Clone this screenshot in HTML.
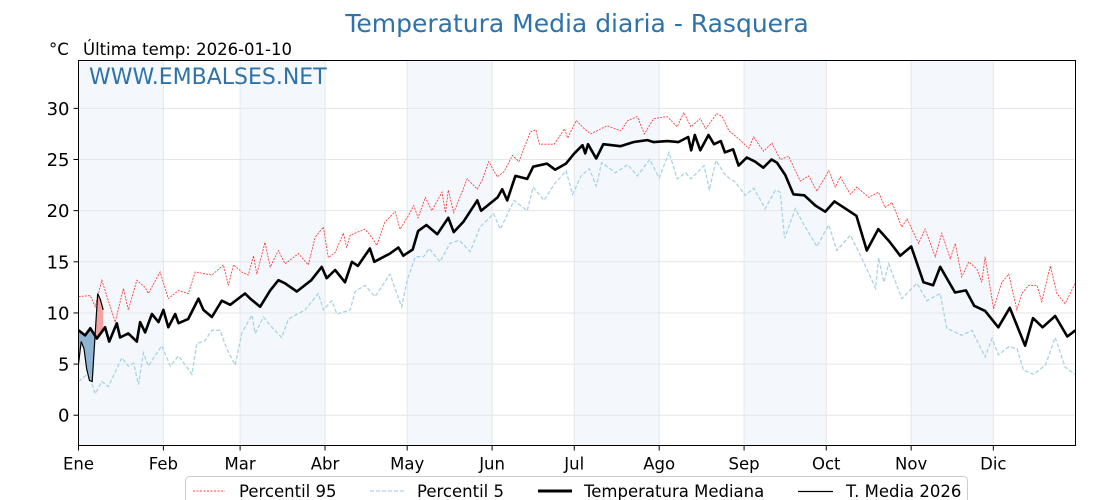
<!DOCTYPE html>
<html><head><meta charset="utf-8">
<style>
html,body{margin:0;padding:0;background:#fff;}
svg{display:block;font-family:"DejaVu Sans","Liberation Sans",sans-serif;}
</style></head>
<body>
<svg id="chart" width="1120" height="500" viewBox="0 0 1120 500" xmlns="http://www.w3.org/2000/svg">
<text x="577" y="32" text-anchor="middle" font-size="25" fill="#2f72aa">Temperatura Media diaria - Rasquera</text>
<text x="49" y="55" font-size="16.5" fill="#000">°C</text>
<text x="83" y="55" font-size="16.5" fill="#000">Última temp: 2026-01-10</text>
<g id="bands"></g>
<g id="grid"></g>
<g id="series"></g>
<text x="89" y="84" font-size="22" fill="#2f72aa">WWW.EMBALSES.NET</text>
<rect x="78.5" y="60.5" width="997" height="385" fill="none" stroke="#000" stroke-width="1"/>
<g id="axes"></g>
<g id="legend">
<rect x="185.5" y="476.5" width="782" height="30" rx="4" fill="#fff" stroke="#ccc"/>
<line x1="193" y1="491" x2="225" y2="491" stroke="red" stroke-width="0.8" stroke-dasharray="2,1.5"/>
<text x="239" y="497" font-size="16.5">Percentil 95</text>
<line x1="370" y1="491" x2="405" y2="491" stroke="#a8d4e6" stroke-width="1.3" stroke-dasharray="4,2"/>
<text x="417" y="497" font-size="16.5">Percentil 5</text>
<line x1="538" y1="491" x2="572" y2="491" stroke="#000" stroke-width="3"/>
<text x="584" y="497" font-size="16.5">Temperatura Mediana</text>
<line x1="798" y1="491.5" x2="833" y2="491.5" stroke="#000" stroke-width="1.2"/>
<text x="846" y="497" font-size="16.5">T. Media 2026</text>
</g>
</svg>
<script>
const monthLabels=["Ene","Feb","Mar","Abr","May","Jun","Jul","Ago","Sep","Oct","Nov","Dic"];
const monthStarts=[0,31,59,90,120,151,181,212,243,273,304,334];
const yTicks=[0,5,10,15,20,25,30];
const medDays=[0,2.4,4.3,6.7,9.7,11.2,14,15.2,18.2,21.3,22.5,24.3,26.8,29.2,31,32.8,35.3,36.5,40,43.8,45.6,48.7,52.3,55.4,60.8,62.7,66.3,70,73,75.4,79.7,85,88.8,90.6,93.7,97.3,99.8,102,106.4,108,113.7,116.8,118.6,122,124,127,131,135,137,140.5,145.6,147,153,154.7,156.5,159.5,163.8,166,171,174,178,181,184,185,186,189,191.6,197.8,202.6,207.7,210,215,219,222.6,223.7,225,227,230,232,234.5,236,239,241,244,247,250,253,255,258,261,265,269,272.6,276,280,284,287.8,292,296,300,304,308.5,312,314.6,320,324,327,331,335.8,340,345.6,348.5,352,356.6,361,364];
const medVals=[8.3,7.8,8.5,7.5,8.6,7.2,9,7.6,8,7.2,9.1,8.1,9.9,9.1,10.3,8.6,9.9,9,9.4,11.4,10.3,9.6,11.2,10.8,11.9,11.4,10.6,12.2,13.2,12.9,12.1,13.2,14.5,13.4,14.2,13,15,14.6,16.3,15,15.8,16.4,15.6,16.2,18,18.6,17.7,19.3,17.9,18.9,21,20,21.3,22.1,21,23.4,23.1,24.3,24.6,24,24.6,25.6,26.4,25.6,26.5,25.1,26.5,26.3,26.7,26.9,26.7,26.8,26.7,27.2,25.9,27.4,25.9,27.4,26.5,26.8,25.7,26,24.4,25.2,24.8,24.2,25,24.7,23.5,21.6,21.5,20.5,19.9,20.9,20.2,19.5,16.1,18.2,17,15.6,16.5,13,12.7,14.5,12,12.2,10.7,10.2,8.6,10.5,6.8,9.5,8.6,9.7,7.7,8.3];
const p95Days=[0,4.3,6.1,8.5,13.4,16.4,18.2,21.3,24.3,25.5,29.8,32.8,36.5,40.1,42.6,48.7,52.9,54.7,56.6,59.6,62,63.9,65.1,68.1,70,73,75.4,80.3,83.9,86.4,89.4,91.2,93.7,96.7,97.9,99.2,104.6,107.1,108.9,111.9,115.6,117.4,120.4,122.4,124,126.6,129,132.7,134,135,137,141.9,145.6,147.4,149.8,152.9,155.3,158.4,160.8,165,167,168.3,173.7,177.4,178.6,181.7,184.7,187,193,198,200.5,204,206.6,210,215,218.6,221,223.6,227,229,233,235,237.5,241.6,244.7,246.5,250.1,253.2,256.2,259.3,263.5,266.6,269.6,273.9,276.3,278.1,281.8,284.2,288.5,292.1,294.5,297,300.6,302.5,306.7,309.1,312.8,315.2,318.3,320.1,322.5,325,328,329.8,331,334.1,337.1,339.6,342.6,344.4,346.9,349.9,351.7,354.8,357.2,360.2,363.9];
const p95Vals=[11.6,11.7,10.6,13.2,9.1,12.4,10.3,13.2,12.5,11.9,14,11.4,12.2,11.9,14,13.7,14.7,12.7,14.7,14,13.7,15.6,13.8,16.9,14.5,16.1,14.8,15.8,14.7,17.4,18.4,15.4,15.9,17.8,16.4,17.6,18.2,17.4,16.6,18.9,19.9,18.2,19.5,20.5,19.3,21.3,20,21.8,19.8,22,19.8,23.1,22.1,23,24.8,23.3,23.8,25.4,24.8,27.7,27.9,26.5,26.5,28,27.1,28.8,28,27.5,28.3,27.8,28.8,29.2,27.5,29,29.2,28.2,29.6,28.2,29,28,29.5,29.2,27.8,26.9,26.1,27.2,25.8,26.6,25,25.3,22.9,23.4,21.9,23.9,22.3,23.3,21.6,22.3,21.3,21.8,20.3,20.8,18.4,19.2,16.8,18.2,15.5,17.8,15.3,16.8,13.5,15,14.3,13,15.5,10.4,13,13.8,10.3,11.9,12.7,12.7,11.1,14.6,11.9,10.9,12.9];
const p5Days=[0,3.6,6.1,8.5,10.9,15.8,18.2,20.1,21.9,23.7,25.5,30.4,33.5,36.5,40.1,41.4,43.2,46.2,48.7,51.7,54.1,57.2,59.6,63.3,64.5,67.5,70.6,74.2,76.6,82.7,87.6,89.4,92.5,94.3,99.2,101,104.6,108.3,113.7,118,120,123,126,128,132,135.6,139,143,146.6,151.5,154,159,163.8,166,170,173.7,178,180.4,183.5,186.5,189,191,196,200.5,204,208.5,212,215.6,218.6,221.7,223.6,228.4,230.3,232.7,236.4,239.8,243.4,246.5,250.7,254.4,256.2,257.8,261.7,264.7,269.6,273.9,276.9,281.8,284.8,288.5,291,292.1,294,295.8,300.6,306.1,309.8,314.6,317,322.5,326.2,331,333.5,335.9,339.6,342.6,345,348.7,353,356.6,360.2,363.9];
const p5Vals=[3.3,4.1,2.1,3.3,2.8,5.6,4.8,5.1,3,6.1,4.8,6.8,4.8,5.8,4.5,4,7,7.3,8.3,8.3,6.5,4.9,8,9.8,8,9.6,8.6,7.6,9.4,10.3,11.9,10.3,11.2,9.9,10.3,12.1,12.7,11.6,13.8,10.6,13.2,15.5,15.5,16.3,15,16.8,17.1,16,18.4,19.7,18.2,21,20,22.3,21,22.6,23.9,21.6,23.4,24.1,22.4,24.7,23.7,24.5,23.4,25,23.2,25.7,23.1,23.7,23.1,24.4,22,24.9,23.4,22.8,21.5,22.2,20.2,22,21.8,17.3,20.2,18.7,16.5,18.6,16.1,17.6,16,13.9,12.4,15.4,13,14.8,11.4,12.9,11.2,11.9,8.5,7.8,8.3,5.7,7.5,5.9,6.7,6.5,4.4,4,4.9,7.6,4.7,4];
const curDays=[0,1,2,3,4,5,6,7,8,9];
const curVals=[5.0,7.2,6.5,4.5,3.4,3.3,7.5,11.9,11.3,10.3];

const NS="http://www.w3.org/2000/svg";
const X0=78.5,X1=1075.5,Y0=60.5,Y1=445.5;
const DMAX=364, TMIN=-2.96, TMAX=34.68;
function xs(d){return X0+d/DMAX*(X1-X0);}
function ys(t){return Y1-(t-TMIN)/(TMAX-TMIN)*(Y1-Y0);}
function mk(tag,attrs,parent){const e=document.createElementNS(NS,tag);for(const k in attrs)e.setAttribute(k,attrs[k]);parent.appendChild(e);return e;}
const bands=document.getElementById('bands'),grid=document.getElementById('grid'),series=document.getElementById('series'),axes=document.getElementById('axes');
for(let i=0;i<12;i+=2){
  const a=xs(monthStarts[i]),b=xs(i+1<12?monthStarts[i+1]:DMAX);
  const r=mk('rect',{x:a,y:Y0,width:b-a,height:Y1-Y0,fill:'#f4f8fc'},bands);
  
  
}
yTicks.forEach(t=>{
  const l=mk('line',{x1:X0,x2:X1,y1:ys(t),y2:ys(t),stroke:'#e3e6ea','stroke-width':1},grid);
  
  
  const tk=mk('line',{x1:X0-5,x2:X0,y1:ys(t),y2:ys(t),stroke:'#000'},axes);
  
  
  const tx=mk('text',{x:X0-9,y:ys(t)+6.5,'text-anchor':'end','font-size':18},axes);
  tx.textContent=t;
  
  
});
monthStarts.forEach((d,i)=>{
  const l=mk('line',{x1:xs(d),x2:xs(d),y1:Y0,y2:Y1,stroke:'#e3e6ea','stroke-width':1},grid);
  
  
  const tk=mk('line',{x1:xs(d),x2:xs(d),y1:Y1,y2:Y1+5,stroke:'#000'},axes);
  
  
  const tx=mk('text',{x:xs(d),y:Y1+24,'text-anchor':'middle','font-size':16.5},axes);
  tx.textContent=monthLabels[i];
  
  
});
function pts(ds,vs){return ds.map((d,i)=>xs(d).toFixed(1)+','+ys(vs[i]).toFixed(1)).join(' ');}
function medAt(d){for(let i=1;i<medDays.length;i++){if(d<=medDays[i]){const f=(d-medDays[i-1])/(medDays[i]-medDays[i-1]);return medVals[i-1]+f*(medVals[i]-medVals[i-1]);}}return medVals[medVals.length-1];}
const defs=mk('defs',{},series);
const medP=medDays.map((d,i)=>xs(d)+','+ys(medVals[i])).join(' ');
const cpA=mk('clipPath',{id:'above'},defs);
mk('polygon',{points:xs(0)+','+Y0+' '+medP+' '+xs(DMAX)+','+Y0},cpA);
const cpB=mk('clipPath',{id:'below'},defs);
mk('polygon',{points:xs(0)+','+Y1+' '+medP+' '+xs(DMAX)+','+Y1},cpB);
const last=curDays.length-1;
let band=pts(curDays,curVals);
for(let i=last;i>=0;i--) band+=' '+xs(curDays[i]).toFixed(1)+','+ys(medAt(curDays[i])).toFixed(1);
const fa=mk('polygon',{points:band,fill:'#f4a3a3','clip-path':'url(#above)'},series);


const fb=mk('polygon',{points:band,fill:'#8eb3d3','clip-path':'url(#below)'},series);


const l95=mk('polyline',{points:pts(p95Days,p95Vals),fill:'none',stroke:'#ff2a2a','stroke-width':0.8,'stroke-dasharray':'2,1.2'},series);


const l5=mk('polyline',{points:pts(p5Days,p5Vals),fill:'none',stroke:'#a8d4e6','stroke-width':1.3,'stroke-dasharray':'4,2'},series);


const lm=mk('polyline',{points:pts(medDays,medVals),fill:'none',stroke:'#000','stroke-width':2.6,'stroke-linejoin':'round'},series);


const lc=mk('polyline',{points:pts(curDays,curVals),fill:'none',stroke:'#000','stroke-width':1.2},series);


</script>
</body></html>
